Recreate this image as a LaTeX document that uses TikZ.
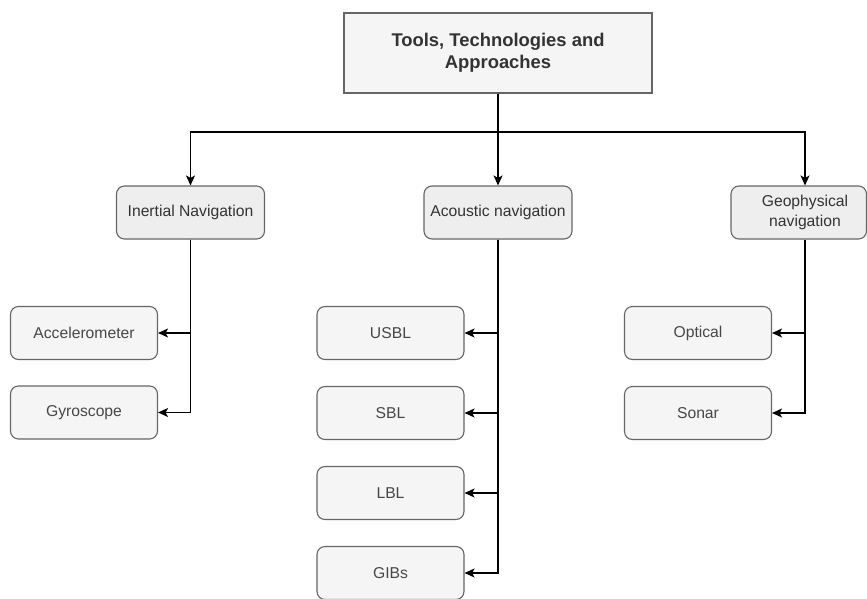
\documentclass[tikz,border=0pt]{standalone}
\usepackage{fontspec}
\setmainfont{Liberation Sans}
\usetikzlibrary{arrows.meta}
\definecolor{boxline}{HTML}{666666}
\definecolor{leaffill}{HTML}{F5F5F5}
\definecolor{midfill}{HTML}{EEEEEE}
\definecolor{txt}{HTML}{333333}
\tikzset{
  titlebox/.style={draw=boxline, fill=leaffill, line width=1.1pt, minimum width=308pt, minimum height=80pt, align=center, text=txt, font=\bfseries\fontsize{18.4}{22}\selectfont},
  midbox/.style={draw=boxline, fill=midfill, line width=1.1pt, rounded corners=8pt, minimum width=148pt, minimum height=53pt, align=center, text=txt, font=\fontsize{15.7}{19.5}\selectfont, inner sep=0pt},
  leafbox/.style={draw=boxline, fill=leaffill, line width=1.1pt, rounded corners=8pt, minimum width=147pt, minimum height=53pt, align=center, text=txt!90, font=\fontsize{15.7}{19}\selectfont, inner sep=0pt},
  arr/.style={draw=black, line width=1.2pt, -{Stealth[length=10pt, width=9pt, inset=2.5pt]}}
}
\begin{document}
\begin{tikzpicture}[x=1pt, y=-1pt]
\useasboundingbox (0,0) rectangle (867,599);
\fill[white] (0,0) rectangle (867,599);

\node[titlebox] (top) at (498,53) {Tools, Technologies and\\Approaches};

\node[midbox] (inertial) at (190.5,212.5) {Inertial Navigation};
\node[midbox] (acoustic) at (498,212.5) {Acoustic navigation};
\node[midbox, minimum width=135.5pt] (geo) at (798.75,212.5) {\hspace*{12.5pt}Geophysical\\\hspace*{12.5pt}navigation};

\coordinate (hy) at (0,132);
\coordinate (geox) at (805,0);

\node[leafbox] (accel) at (84,333) {Accelerometer};
\node[leafbox] (gyro) at (84,412.5) {Gyroscope};

\node[leafbox] (usbl) at (390.5,333) {USBL};
\node[leafbox] (sbl) at (390.5,413) {SBL};
\node[leafbox] (lbl) at (390.5,493) {LBL};
\node[leafbox] (gibs) at (390.5,573) {GIBs};

\node[leafbox] (optical) at (698,333) {Optical};
\node[leafbox] (sonar) at (698,413) {Sonar};

\draw[arr] (top.south) -- (acoustic.north);
\draw[arr] (top.south) -- (top.south |- hy) -| (inertial.north);
\draw[arr] (top.south) -- (top.south |- hy) -| (geo.north -| geox);

\draw[arr] (inertial.south) |- (accel.east);
\draw[arr] (inertial.south) |- (gyro.east);

\draw[arr] (acoustic.south) |- (usbl.east);
\draw[arr] (acoustic.south) |- (sbl.east);
\draw[arr] (acoustic.south) |- (lbl.east);
\draw[arr] (acoustic.south) |- (gibs.east);

\draw[arr] (geo.south -| geox) |- (optical.east);
\draw[arr] (geo.south -| geox) |- (sonar.east);
\end{tikzpicture}
\end{document}
